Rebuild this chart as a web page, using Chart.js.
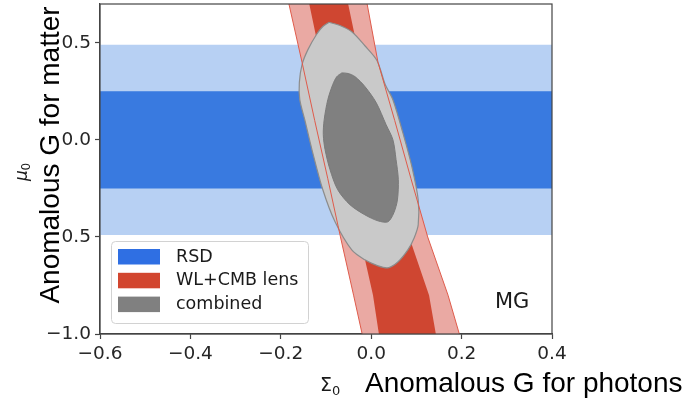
<!DOCTYPE html>
<html>
<head>
<meta charset="utf-8">
<script src="https://cdn.jsdelivr.net/npm/chart.js@4.4.1/dist/chart.umd.min.js"></script>
<style>
  body { margin: 0; background: #fff; }
</style>
</head>
<body>
<canvas id="grafico" width="691" height="399"></canvas>
<script>
const eje_x = [-0.6, -0.4, -0.2, 0.0, 0.2, 0.4];
const eje_y = [-1.0, -0.5, 0.0, 0.5];
const rango_x = [-0.6, 0.4];
const rango_y = [-1.0, 0.7];

// RSD: bandas horizontales en mu0 (68% y 95%)
const rsd_68 = [-0.25, 0.25];
const rsd_95 = [-0.49, 0.49];

// WL+CMB lens: bordes de la banda en Sigma0 para cada mu0
const lens_y = [0.7, 0.4, 0.1, -0.2, -0.5, -0.8, -1.0];
const lens68_izq = [-0.137, -0.110, -0.083, -0.056, -0.025, 0.004, 0.017];
const lens68_der = [-0.051, -0.024, 0.012, 0.048, 0.084, 0.128, 0.143];
const lens95_izq = [-0.182, -0.153, -0.125, -0.096, -0.068, -0.039, -0.020];
const lens95_der = [-0.009, 0.015, 0.052, 0.088, 0.125, 0.170, 0.195];

// combinado: contornos cerrados (Sigma0, mu0)
const comb95_x = [-0.093, -0.069, -0.043, -0.014, 0.013, 0.031, 0.048, 0.070, 0.090, 0.104, 0.104, 0.095, 0.081, 0.059, 0.037, 0.015, -0.014, -0.043, -0.080, -0.107, -0.131, -0.147, -0.158, -0.159, -0.153, -0.140, -0.121, -0.107, -0.093];
const comb95_y = [0.606, 0.589, 0.557, 0.485, 0.408, 0.285, 0.207, 0.037, -0.138, -0.309, -0.438, -0.505, -0.567, -0.629, -0.659, -0.649, -0.618, -0.567, -0.422, -0.257, -0.051, 0.104, 0.207, 0.295, 0.388, 0.465, 0.543, 0.584, 0.606];
const comb68_x = [-0.065, -0.051, -0.036, -0.014, 0.011, 0.033, 0.048, 0.055, 0.060, 0.058, 0.050, 0.037, 0.015, -0.014, -0.047, -0.074, -0.091, -0.102, -0.106, -0.104, -0.096, -0.085, -0.076, -0.065];
const comb68_y = [0.345, 0.342, 0.326, 0.275, 0.192, 0.078, 0.001, -0.102, -0.205, -0.309, -0.376, -0.422, -0.417, -0.386, -0.334, -0.257, -0.154, -0.051, 0.027, 0.104, 0.207, 0.285, 0.326, 0.345];

const leyenda_nombres = ['RSD', 'WL+CMB lens', 'combined'];
const leyenda_colores = ['#2f6fe3', '#d2462f', '#808080'];

function poligono(xs, ys) {
    return xs.map((x, i) => ({ x: x, y: ys[i] }));
}

function franja(lim) {
    return [
        { x: rango_x[0], y: lim[0] }, { x: rango_x[1], y: lim[0] },
        { x: rango_x[1], y: lim[1] }, { x: rango_x[0], y: lim[1] },
        { x: rango_x[0], y: lim[0] }
    ];
}

function banda(izq, der) {
    const puntos = [];
    lens_y.forEach((y, i) => puntos.push({ x: izq[i], y: y }));
    for (let i = lens_y.length - 1; i >= 0; i--) puntos.push({ x: der[i], y: lens_y[i] });
    puntos.push(puntos[0]);
    return puntos;
}

function relleno(datos, color, orden, extra) {
    return Object.assign({
        data: datos,
        showLine: true,
        fill: 'shape',
        backgroundColor: color,
        borderColor: 'transparent',
        borderWidth: 0,
        pointRadius: 0,
        tension: 0,
        order: orden
    }, extra || {});
}

function formato(v) {
    return v.toFixed(1).replace('-', '\u2212');
}

// marco completo alrededor del area de datos
const marco = {
    id: 'marco',
    afterDatasetsDraw(chart) {
        const a = chart.chartArea;
        const ctx = chart.ctx;
        ctx.save();
        ctx.strokeStyle = '#444';
        ctx.lineWidth = 1.2;
        ctx.strokeRect(a.left, a.top, a.right - a.left, a.bottom - a.top);
        ctx.restore();
    }
};

const textos = {
    id: 'textos',
    afterDraw(chart) {
        const ctx = chart.ctx;
        ctx.save();

        // leyenda
        ctx.fillStyle = 'rgba(255,255,255,0.85)';
        ctx.strokeStyle = '#d2d2d2';
        ctx.lineWidth = 1;
        ctx.beginPath();
        ctx.roundRect(111.5, 241.5, 197, 82, 4);
        ctx.fill();
        ctx.stroke();
        ctx.font = '17.5px "DejaVu Sans"';
        ctx.textBaseline = 'middle';
        ctx.textAlign = 'left';
        leyenda_nombres.forEach((nombre, i) => {
            const y = 249 + i * 23.8;
            ctx.fillStyle = leyenda_colores[i];
            ctx.fillRect(118, y, 42, 15.5);
            ctx.fillStyle = '#1a1a1a';
            ctx.fillText(nombre, 176, y + 8);
        });

        // etiqueta del panel
        ctx.font = '21px "DejaVu Sans"';
        ctx.textBaseline = 'alphabetic';
        ctx.fillText('MG', 495, 308);

        // titulo del eje y, sobre fondo blanco
        ctx.fillStyle = '#fff';
        ctx.fillRect(34, 2, 26, 306);
        ctx.fillStyle = '#000';
        ctx.save();
        ctx.translate(59, 155);
        ctx.rotate(-Math.PI / 2);
        ctx.textAlign = 'center';
        ctx.font = '28px "Liberation Sans"';
        ctx.fillText('Anomalous G for matter', 0, 0);
        ctx.restore();

        // mu_0
        ctx.save();
        ctx.translate(27, 181);
        ctx.rotate(-Math.PI / 2);
        ctx.textAlign = 'left';
        ctx.fillStyle = '#1a1a1a';
        ctx.font = 'italic 17px "DejaVu Sans"';
        ctx.fillText('\u03bc', 0, 0);
        ctx.font = '12px "DejaVu Sans"';
        ctx.fillText('0', 10.5, 3);
        ctx.restore();

        // Sigma_0 y titulo del eje x
        ctx.textAlign = 'left';
        ctx.fillStyle = '#1a1a1a';
        ctx.font = '19px "DejaVu Sans"';
        ctx.fillText('\u03a3', 320, 391);
        ctx.font = '13px "DejaVu Sans"';
        ctx.fillText('0', 332, 395);
        ctx.fillStyle = '#000';
        ctx.font = '28px "Liberation Sans"';
        ctx.fillText('Anomalous G for photons', 365, 392);

        ctx.restore();
    }
};

function escala(ticks_lista, min, max, ajuste) {
    return {
        type: 'linear',
        min: min,
        max: max,
        afterBuildTicks: s => { s.ticks = ticks_lista.map(v => ({ value: v })); },
        afterFit: s => {
            ajuste(s);
            s.paddingTop = 0; s.paddingBottom = 0;
            s.paddingLeft = 0; s.paddingRight = 0;
        },
        ticks: {
            callback: v => formato(v),
            font: { family: 'DejaVu Sans', size: 18.5 },
            color: '#262626',
            padding: 4,
            maxRotation: 0,
            autoSkip: false
        },
        grid: { drawOnChartArea: false, drawTicks: true, tickLength: 5, tickColor: '#444', tickWidth: 1.2 },
        border: { color: '#444', width: 1.2 }
    };
}

const ctx_g = document.getElementById('grafico').getContext('2d');
const grafico = new Chart(ctx_g, {
    type: 'scatter',
    data: {
        datasets: [
            relleno(franja(rsd_95), '#b7d0f3', 9),
            relleno(franja(rsd_68), '#397ae0', 8),
            relleno(banda(lens95_izq, lens95_der), '#eaa9a3', 7),
            relleno(banda(lens68_izq, lens68_der), '#cf4631', 6),
            relleno(poligono(comb95_x, comb95_y), '#c9c9c9', 5, { borderColor: '#8c8c8c', borderWidth: 1.2, tension: 0.3 }),
            relleno(poligono(lens95_izq, lens_y), 'transparent', 4, { fill: false, borderColor: '#df5b4b', borderWidth: 1 }),
            relleno(poligono(lens95_der, lens_y), 'transparent', 4, { fill: false, borderColor: '#df5b4b', borderWidth: 1 }),
            relleno(poligono(comb68_x, comb68_y), '#808080', 3, { borderColor: '#7a7a7a', borderWidth: 1, tension: 0.3 })
        ]
    },
    options: {
        responsive: false,
        animation: false,
        events: [],
        layout: { padding: { top: 4, right: 139, left: 0, bottom: 0 } },
        plugins: {
            legend: { display: false },
            tooltip: { enabled: false }
        },
        scales: {
            x: escala(eje_x, rango_x[0], rango_x[1], s => { s.height = 65; }),
            y: escala(eje_y, rango_y[0], rango_y[1], s => { s.width = 100; })
        }
    },
    plugins: [marco, textos]
});
</script>
</body>
</html>
